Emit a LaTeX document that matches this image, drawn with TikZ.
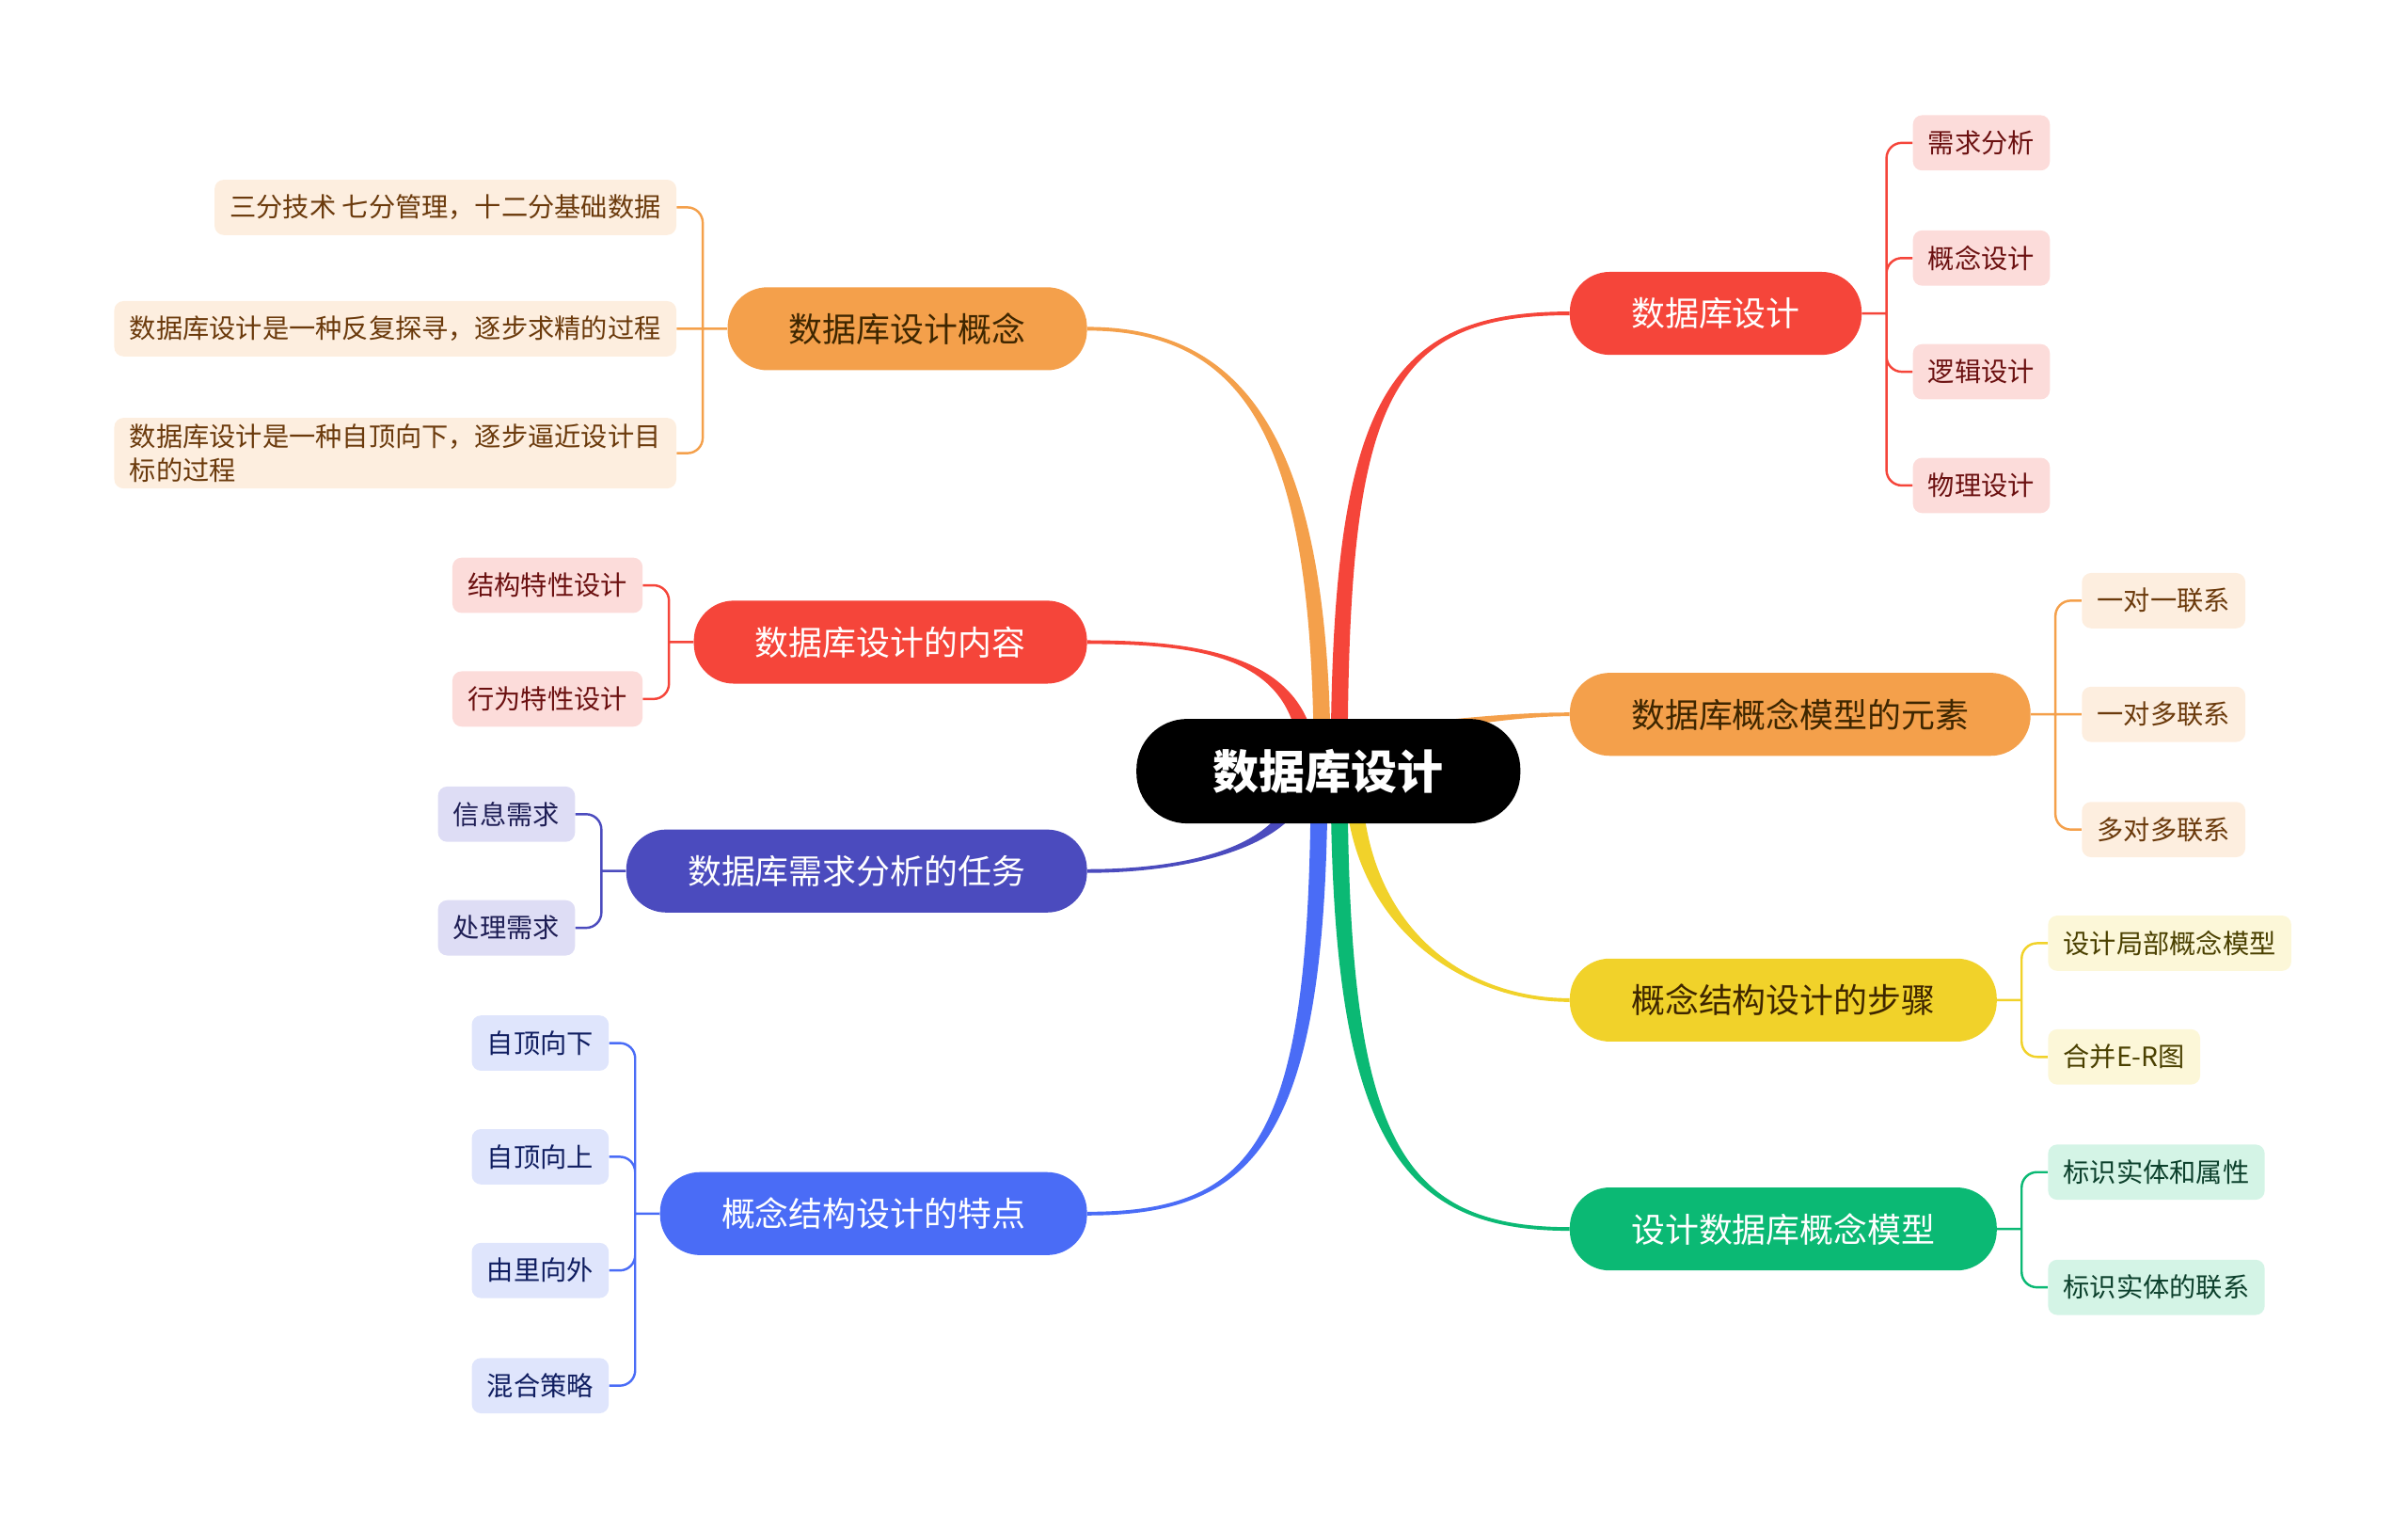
\documentclass[tikz,border=0pt]{standalone}
\usepackage{fontspec}
\setmainfont{Noto Sans CJK SC}
\usetikzlibrary{calc,backgrounds}
\definecolor{dbred}{HTML}{F5453A}
\definecolor{dbredlt}{HTML}{FCDCDA}
\definecolor{dbredtx}{HTML}{6B1010}
\definecolor{dborange}{HTML}{F4A04B}
\definecolor{dborangelt}{HTML}{FDEEDF}
\definecolor{dborangetx}{HTML}{6B3A0C}
\definecolor{dbindigo}{HTML}{4B4BBE}
\definecolor{dbindigolt}{HTML}{DEDDF5}
\definecolor{dbindigotx}{HTML}{1E1E55}
\definecolor{dbblue}{HTML}{4A6CF6}
\definecolor{dbbluelt}{HTML}{DFE5FC}
\definecolor{dbbluetx}{HTML}{0F1D60}
\definecolor{dbyellow}{HTML}{F1D22A}
\definecolor{dbyellowlt}{HTML}{FCF7D8}
\definecolor{dbyellowtx}{HTML}{4A4000}
\definecolor{dbgreen}{HTML}{0BB974}
\definecolor{dbgreenlt}{HTML}{D4F4E6}
\definecolor{dbgreentx}{HTML}{0C402C}
\definecolor{dbdark}{HTML}{3E2600}
\tikzset{
  root/.style={fill=black,text=white,rounded corners=33pt,minimum height=68pt,inner xsep=50pt,
    font=\fontsize{30}{34}\selectfont\bfseries},
  topic/.style={fill=#1,text=white,rounded corners=26pt,minimum height=54pt,inner xsep=40pt,
    font=\fontsize{22}{26}\selectfont},
  leaf/.style 2 args={fill=#1,text=#2,rounded corners=6pt,minimum height=36pt,inner xsep=10pt,
    inner ysep=4pt,align=left,font=\fontsize{17.3}{22}\selectfont},
  twig/.style={draw=#1,line width=1.5pt,rounded corners=10pt},
}
\newcommand\limb[8]{%
  \fill[#1] ($(#2)+(#4+90:#8)$) to[out=#4,in=#5,out distance=#6,in distance=#7] ($(#3)+(#5-90:1.2)$)
    -- ($(#3)+(#5+90:1.2)$) to[out=#5,in=#4,out distance=#7,in distance=#6] ($(#2)+(#4-90:#8)$) -- cycle;}
\begin{document}
\begin{tikzpicture}[x=1pt,y=1pt]
  \useasboundingbox (0,0) rectangle (1568,-995);
  \node[root] (c) at (865,-502) {数据库设计};
  \node[topic=dbred,anchor=west] (r1) at (1022,-204) {数据库设计};
  \node[topic=dborange,text=dbdark,anchor=west] (r2) at (1022,-465) {数据库概念模型的元素};
  \node[topic=dbyellow,text=dbdark,anchor=west] (r3) at (1022,-651) {概念结构设计的步骤};
  \node[topic=dbgreen,anchor=west] (r4) at (1022,-800) {设计数据库概念模型};
  \node[topic=dborange,text=dbdark,anchor=east] (l1) at (708,-214) {数据库设计概念};
  \node[topic=dbred,anchor=east] (l2) at (708,-418) {数据库设计的内容};
  \node[topic=dbindigo,anchor=east] (l3) at (708,-567) {数据库需求分析的任务};
  \node[topic=dbblue,anchor=east] (l4) at (708,-790) {概念结构设计的特点};

  \node[leaf={dbredlt}{dbredtx},anchor=west] (r1a) at ($(r1.east)+(33,111)$) {需求分析};
  \node[leaf={dbredlt}{dbredtx},anchor=west] (r1b) at ($(r1.east)+(33,36)$) {概念设计};
  \node[leaf={dbredlt}{dbredtx},anchor=west] (r1c) at ($(r1.east)+(33,-38)$) {逻辑设计};
  \node[leaf={dbredlt}{dbredtx},anchor=west] (r1d) at ($(r1.east)+(33,-112)$) {物理设计};
  \node[leaf={dborangelt}{dborangetx},anchor=west] (r2a) at ($(r2.east)+(33,74)$) {一对一联系};
  \node[leaf={dborangelt}{dborangetx},anchor=west] (r2b) at ($(r2.east)+(33,0)$) {一对多联系};
  \node[leaf={dborangelt}{dborangetx},anchor=west] (r2c) at ($(r2.east)+(33,-75)$) {多对多联系};
  \node[leaf={dbyellowlt}{dbyellowtx},anchor=west] (r3a) at ($(r3.east)+(33,37)$) {设计局部概念模型};
  \node[leaf={dbyellowlt}{dbyellowtx},anchor=west] (r3b) at ($(r3.east)+(33,-37)$) {合并E-R图};
  \node[leaf={dbgreenlt}{dbgreentx},anchor=west] (r4a) at ($(r4.east)+(33,37)$) {标识实体和属性};
  \node[leaf={dbgreenlt}{dbgreentx},anchor=west] (r4b) at ($(r4.east)+(33,-38)$) {标识实体的联系};
  \node[leaf={dborangelt}{dborangetx},anchor=east] (l1a) at ($(l1.west)+(-33,79)$) {三分技术 七分管理，十二分基础数据};
  \node[leaf={dborangelt}{dborangetx},anchor=east] (l1b) at ($(l1.west)+(-33,0)$) {数据库设计是一种反复探寻，逐步求精的过程};
  \node[leaf={dborangelt}{dborangetx},anchor=east] (l1c) at ($(l1.west)+(-33,-81)$) {数据库设计是一种自顶向下，逐步逼近设计目\\标的过程};
  \node[leaf={dbredlt}{dbredtx},anchor=east] (l2a) at ($(l2.west)+(-33,37)$) {结构特性设计};
  \node[leaf={dbredlt}{dbredtx},anchor=east] (l2b) at ($(l2.west)+(-33,-37)$) {行为特性设计};
  \node[leaf={dbindigolt}{dbindigotx},anchor=east] (l3a) at ($(l3.west)+(-33,37)$) {信息需求};
  \node[leaf={dbindigolt}{dbindigotx},anchor=east] (l3b) at ($(l3.west)+(-33,-37)$) {处理需求};
  \node[leaf={dbbluelt}{dbbluetx},anchor=east] (l4a) at ($(l4.west)+(-33,111)$) {自顶向下};
  \node[leaf={dbbluelt}{dbbluetx},anchor=east] (l4b) at ($(l4.west)+(-33,37)$) {自顶向上};
  \node[leaf={dbbluelt}{dbbluetx},anchor=east] (l4c) at ($(l4.west)+(-33,-37)$) {由里向外};
  \node[leaf={dbbluelt}{dbbluetx},anchor=east] (l4d) at ($(l4.west)+(-33,-112)$) {混合策略};

  \begin{scope}[on background layer]
    \coordinate (o1) at ($(c.center)+(-4,0)$);
    \coordinate (o2) at ($(c.center)+(7,0)$);
    \coordinate (o3) at ($(c.center)+(-13,0)$);
    \coordinate (o4) at ($(c.center)+(68,30)$);
    \coordinate (o5) at ($(c.center)+(-17,0)$);
    \coordinate (o6) at ($(c.center)+(-6,0)$);
    \coordinate (o7) at ($(c.center)+(7,0)$);
    \coordinate (o8) at ($(c.center)+(16,0)$);
    \limb{dborange}{o1}{l1.east}{90}{0}{200pt}{112pt}{5.5}
    \limb{dbred}{o2}{r1.west}{90}{180}{240pt}{120pt}{5.5}
    \limb{dbred}{o3}{l2.east}{90}{0}{72pt}{82pt}{5.5}
    \limb{dborange}{o4}{r2.west}{6}{180}{30pt}{30pt}{2.5}
    \limb{dbindigo}{o5}{l3.east}{270}{0}{48pt}{68pt}{5.5}
    \limb{dbblue}{o6}{l4.east}{270}{0}{238pt}{112pt}{5.5}
    \limb{dbgreen}{o7}{r4.west}{270}{180}{238pt}{112pt}{5.5}
    \limb{dbyellow}{o8}{r3.west}{270}{180}{100pt}{70pt}{5.5}

    \draw[twig=dbred] (r1.east) -- ++(16,0) coordinate (r1k)
      (r1k) |- (r1a.west) (r1k) |- (r1b.west) (r1k) |- (r1c.west) (r1k) |- (r1d.west);
    \draw[twig=dborange] (r2.east) -- (r2b.west) ($(r2.east)+(16,0)$) coordinate (r2k)
      |- (r2a.west) (r2k) |- (r2c.west);
    \draw[twig=dbyellow] (r3.east) -- ++(16,0) coordinate (r3k)
      (r3k) |- (r3a.west) (r3k) |- (r3b.west);
    \draw[twig=dbgreen] (r4.east) -- ++(16,0) coordinate (r4k)
      (r4k) |- (r4a.west) (r4k) |- (r4b.west);
    \draw[twig=dborange] (l1.west) -- (l1b.east) ($(l1.west)+(-16,0)$) coordinate (l1k)
      |- (l1a.east) (l1k) |- (l1c.east);
    \draw[twig=dbred] (l2.west) -- ++(-16,0) coordinate (l2k)
      (l2k) |- (l2a.east) (l2k) |- (l2b.east);
    \draw[twig=dbindigo] (l3.west) -- ++(-16,0) coordinate (l3k)
      (l3k) |- (l3a.east) (l3k) |- (l3b.east);
    \draw[twig=dbblue] (l4.west) -- ++(-16,0) coordinate (l4k)
      (l4k) |- (l4a.east) (l4k) |- (l4b.east) (l4k) |- (l4c.east) (l4k) |- (l4d.east);
  \end{scope}
\end{tikzpicture}
\end{document}
